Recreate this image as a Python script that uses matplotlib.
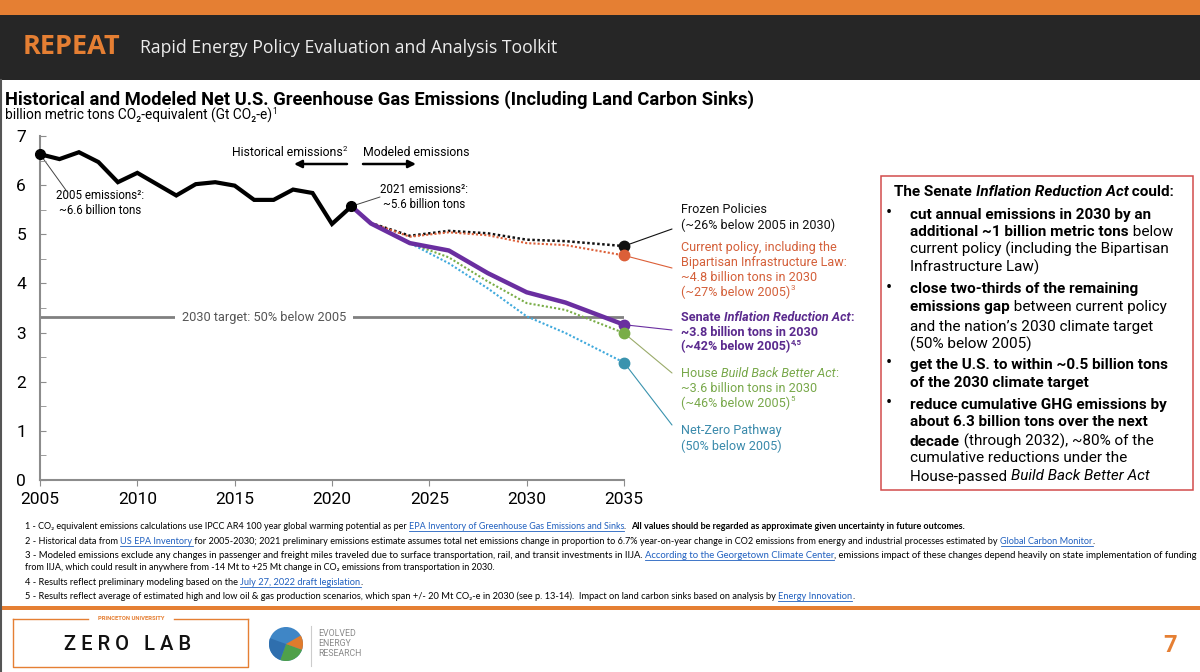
import matplotlib
matplotlib.use('Agg')
import matplotlib.pyplot as plt
from matplotlib.patches import Rectangle, ConnectionPatch, Wedge, Circle

# historical net emissions, Gt CO2-e
hist_years = list(range(2005, 2022))
hist = [6.63, 6.53, 6.67, 6.47, 6.06, 6.25, 6.02, 5.79, 6.02, 6.06, 5.99, 5.70, 5.70, 5.91, 5.84, 5.21, 5.57]

# modeled scenarios
model_years = [2021, 2022, 2024, 2026, 2028, 2030, 2032, 2035]
frozen = [5.57, 5.23, 4.97, 5.07, 5.02, 4.89, 4.86, 4.76]
current = [5.57, 5.23, 4.95, 5.04, 4.98, 4.82, 4.78, 4.57]
ira = [5.57, 5.22, 4.82, 4.67, 4.21, 3.82, 3.61, 3.16]
bbb = [5.57, 5.22, 4.82, 4.53, 4.04, 3.60, 3.46, 2.99]
netzero = [5.57, 5.22, 4.82, 4.41, 3.90, 3.33, 2.99, 2.39]

SANS = ['Roboto', 'DejaVu Sans']
FOOT = ['Lato', 'DejaVu Sans']
ORANGE = '#e57f33'

fig = plt.figure(figsize=(12, 6.72), dpi=100)
R = fig.canvas.get_renderer()

# background layer in pixel coords (y down)
bg = fig.add_axes([0, 0, 1, 1])
bg.set_xlim(0, 1200)
bg.set_ylim(672, 0)
bg.axis('off')

bg.add_patch(Rectangle((0, 0), 1200, 15, color=ORANGE, lw=0))
bg.add_patch(Rectangle((0, 15), 1200, 65, color='#262626', lw=0))
bg.add_patch(Rectangle((0, 606), 1200, 4, color=ORANGE, lw=0))
bg.plot([1, 1], [80, 672], color='#555555', lw=1.5)


def runs(x, y, parts, size, color='black', family=SANS, fit=None):
    x0 = x
    drawn = []
    base = y + 0.36 * size * 100 / 72
    for p in parts:
        if isinstance(p, str):
            p = (p, {})
        s, st = p
        sz = size * 0.62 if st.get('sup') else size
        yy = base - 0.42 * size * 100 / 72 if st.get('sup') else base
        c = st.get('color', color)
        t = bg.text(x, yy, s, fontsize=sz, color=c,
                    fontweight=st.get('weight', 'normal'),
                    fontstyle=st.get('style', 'normal'),
                    family=family, ha='left', va='baseline')
        drawn.append(t)
        w = t.get_window_extent(renderer=R).width
        if st.get('ul'):
            drawn += bg.plot([x, x + w], [base + 1.6, base + 1.6], color=c, lw=0.6)
        x += w
    if fit:
        for a in drawn:
            a.remove()
        return runs(x0, y, parts, size * fit / (x - x0), color, family)
    return size


B = {'weight': 'bold'}
I = {'style': 'italic'}
BI = {'weight': 'bold', 'style': 'italic'}
SUP = {'sup': True}
BSUP = {'sup': True, 'weight': 'bold'}

# banner
bg.text(23, 47, 'REPEAT', fontsize=19.5, fontweight='bold', color=ORANGE,
        family=['Open Sans'], va='center', ha='left')
bg.text(140, 48, 'Rapid Energy Policy Evaluation and Analysis Toolkit', fontsize=12.7,
        color='#ececec', family=['Open Sans'], va='center', ha='left')

# title
runs(5, 98, [('Historical and Modeled Net U.S. Greenhouse Gas Emissions (Including Land Carbon Sinks)', B)],
     13, fit=747)
runs(5, 115, ['billion metric tons CO₂-equivalent (Gt CO₂-e)', ('1', SUP)], 9.5, fit=273)

# main axes
ax = fig.add_axes([40 / 1200, 1 - 480 / 672, 584 / 1200, 344 / 672])
ax.set_zorder(2)
ax.patch.set_visible(False)
ax.set_xlim(2005, 2035)
ax.set_ylim(0, 7)
for s in ['top', 'right']:
    ax.spines[s].set_visible(False)
for s in ['left', 'bottom']:
    ax.spines[s].set_color('#8c8c8c')
    ax.spines[s].set_linewidth(1.5)
    ax.spines[s].set_clip_on(False)
ax.set_xticks(range(2005, 2036, 5))
ax.set_yticks(range(0, 8))
ax.set_yticks([i + 0.5 for i in range(7)], minor=True)
ax.tick_params(axis='y', which='both', direction='in', length=4, color='#8c8c8c', pad=10,
               labelsize=12.5)
ax.tick_params(axis='x', direction='out', length=4, color='#8c8c8c', pad=5, labelsize=12.5)
for lab in ax.get_xticklabels() + ax.get_yticklabels():
    lab.set_family(SANS)

target = 0.5 * hist[0]
ax.plot([2005, 2035], [target, target], color='#808080', lw=2, zorder=1)
ax.text(2016.5, target, '2030 target: 50% below 2005', ha='center', va='center', fontsize=9.2,
        color='#555555', family=SANS, zorder=2,
        bbox=dict(boxstyle='square,pad=0.55', fc='white', ec='none'))

ax.plot(model_years, frozen, color='#111111', lw=1.8, ls=(0, (1, 1)), zorder=3)
ax.plot(model_years, current, color='#dc5f38', lw=1.5, ls=(0, (1, 1)), zorder=3)
ax.plot(model_years, bbb, color='#79ad47', lw=1.5, ls=(0, (1, 1)), zorder=3)
ax.plot(model_years, netzero, color='#3fa9dc', lw=1.5, ls=(0, (1, 1)), zorder=3)
ax.plot(model_years, ira, color='#6a2ea0', lw=3.2, zorder=4, solid_capstyle='round')
ax.plot(hist_years, hist, color='black', lw=3, zorder=5, solid_joinstyle='miter')
ax.plot([hist_years[0], hist_years[-1]], [hist[0], hist[-1]], 'o', color='black', ms=7,
        zorder=6, clip_on=False)

ends = [(frozen, '#111111', '#111111', 229), (current, '#dc5f38', '#dc5f38', 268),
        (ira, '#6a2ea0', '#6a2ea0', 330), (bbb, '#79ad47', '#9aab6a', 373),
        (netzero, '#3a93ae', '#3a93ae', 425)]
for ser, c, lc, ly in ends:
    ax.plot(model_years[-1], ser[-1], 'o', color=c, ms=7.5, zorder=6, clip_on=False)
    fig.add_artist(ConnectionPatch(xyA=(model_years[-1], ser[-1]), coordsA=ax.transData,
                                   xyB=(672, ly), coordsB=bg.transData, color=lc, lw=0.8))

# point annotations
fig.add_artist(ConnectionPatch(xyA=(hist_years[0], hist[0]), coordsA=ax.transData,
                               xyB=(68, 193), coordsB=bg.transData, color='#444444', lw=0.7))
bg.text(100, 203, '2005 emissions²:\n~6.6 billion tons', ha='center', va='center',
        fontsize=8.3, family=SANS, linespacing=1.15)
fig.add_artist(ConnectionPatch(xyA=(hist_years[-1], hist[-1]), coordsA=ax.transData,
                               xyB=(380, 197), coordsB=bg.transData, color='#444444', lw=0.7))
bg.text(424, 197, '2021 emissions²:\n~5.6 billion tons', ha='center', va='center',
        fontsize=8.3, family=SANS, linespacing=1.15)

# historical / modeled arrows
runs(232, 152, ['Historical emissions', ('2', SUP)], 9, fit=116)
runs(363, 152, ['Modeled emissions'], 9, fit=107)
bg.annotate('', xy=(294, 164), xytext=(347, 164),
            arrowprops=dict(arrowstyle='-|>', lw=1.8, color='black', mutation_scale=11,
                            shrinkA=0, shrinkB=0))
bg.annotate('', xy=(416, 164), xytext=(363, 164),
            arrowprops=dict(arrowstyle='-|>', lw=1.8, color='black', mutation_scale=11,
                            shrinkA=0, shrinkB=0))

# scenario labels
LX = 681
LS = 9.1
runs(LX, 208, ['Frozen Policies'], LS, '#111111')
runs(LX, 224, ['(~26% below 2005 in 2030)'], LS, '#111111')
cc = '#d4603a'
runs(LX, 246, ['Current policy, including the'], LS, cc)
runs(LX, 261, ['Bipartisan Infrastructure Law:'], LS, cc)
runs(LX, 276, ['~4.8 billion tons in 2030'], LS, cc)
runs(LX, 291, ['(~27% below 2005)', ('3', SUP)], LS, cc)
pc = '#5b2a8e'
runs(LX, 316, [('Senate ', B), ('Inflation Reduction Act', BI), (':', B)], LS, pc)
runs(LX, 331, [('~3.8 billion tons in 2030', B)], LS, pc)
runs(LX, 346, [('(~42% below 2005)', B), ('4,5', BSUP)], LS, pc)
gc = '#78a84a'
runs(LX, 372, ['House ', ('Build Back Better Act', I), ':'], LS, gc)
runs(LX, 387, ['~3.6 billion tons in 2030'], LS, gc)
runs(LX, 402, ['(~46% below 2005)', ('5', SUP)], LS, gc)
nc = '#3a8aab'
runs(LX, 429, ['Net-Zero Pathway'], LS, nc)
runs(LX, 445, ['(50% below 2005)'], LS, nc)

# right text box
bg.add_patch(Rectangle((881, 176), 312, 314, fill=False, ec='#d24b4b', lw=1.1))
BS = 11
runs(894, 191, [('The Senate ', B), ('Inflation Reduction Act', BI), (' could:', B)], BS)
box_lines = [
    (213, True, [('cut annual emissions in 2030 by an', B)]),
    (231, False, [('additional ~1 billion metric tons', B), ' below']),
    (248, False, ['current policy (including the Bipartisan']),
    (266, False, ['Infrastructure Law)']),
    (288, True, [('close two-thirds of the remaining', B)]),
    (306, False, [('emissions gap', B), ' between current policy']),
    (325, False, ['and the nation’s 2030 climate target']),
    (343, False, ['(50% below 2005)']),
    (363, True, [('get the U.S. to within ~0.5 billion tons', B)]),
    (382, False, [('of the 2030 climate target', B)]),
    (403, True, [('reduce cumulative GHG emissions by', B)]),
    (421, False, [('about 6.3 billion tons over the next', B)]),
    (440, False, [('decade', B), ' (through 2032), ~80% of the']),
    (457, False, ['cumulative reductions under the']),
    (475, False, ['House-passed ', ('Build Back Better Act', I)]),
]
for y, bullet, parts in box_lines:
    if bullet:
        bg.text(889, y, '•', ha='center', va='center', fontsize=13, family=SANS)
    runs(910, y, parts, BS)

# footnotes
L = {'color': '#1f5fbf', 'ul': True}
runs(25, 526, ['1 - CO₂ equivalent emissions calculations use IPCC AR4 100 year global warming potential as per ',
               ('EPA Inventory of Greenhouse Gas Emissions and Sinks', L), '.  ',
               ('All values should be regarded as approximate given uncertainty in future outcomes.', B)],
     6.5, family=FOOT, fit=935)
runs(25, 541, ['2 - Historical data from ', ('US EPA Inventory', L),
               ' for 2005-2030; 2021 preliminary emissions estimate assumes total net emissions change in proportion to 6.7% year-on-year change in CO2 emissions from energy and industrial processes estimated by ',
               ('Global Carbon Monitor', L), '.'], 6.5, family=FOOT, fit=1072)
runs(25, 555, ['3 - Modeled emissions exclude any changes in passenger and freight miles traveled due to surface transportation, rail, and transit investments in IIJA. ',
               ('According to the Georgetown Climate Center', L),
               ', emissions impact of these changes depend heavily on state implementation of funding'],
     6.5, family=FOOT, fit=1163)
runs(25, 567, ['from IIJA, which could result in anywhere from -14 Mt to +25 Mt change in CO₂ emissions from transportation in 2030.'],
     6.5, family=FOOT, fit=471)
runs(25, 582, ['4 - Results reflect preliminary modeling based on the ', ('July 27, 2022 draft legislation', L), '.'],
     6.5, family=FOOT, fit=336)
runs(25, 596, ['5 - Results reflect average of estimated high and low oil & gas production scenarios, which span +/- 20 Mt CO₂-e in 2030 (see p. 13-14).  Impact on land carbon sinks based on analysis by ',
               ('Energy Innovation', L), '.'], 6.5, family=FOOT, fit=828)

# footer logos
bg.plot([13, 88], [619, 619], color=ORANGE, lw=1)
bg.plot([174, 248], [619, 619], color=ORANGE, lw=1)
bg.plot([13, 13, 248, 248], [619, 667, 667, 619], color=ORANGE, lw=1)
bg.text(131, 619, 'PRINCETON UNIVERSITY', ha='center', va='center', fontsize=4.2,
        color=ORANGE, family=SANS, fontweight='bold')
bg.text(128, 644, 'Z E R O   L A B', ha='center', va='center', fontsize=14.5,
        family=SANS, fontweight='medium', color='#111111')
bg.add_patch(Circle((286, 644), 17, color='#3f86c6', lw=0))
bg.add_patch(Wedge((286, 644), 17, 20, 110, color='#4fa04a', lw=0))
bg.add_patch(Wedge((286, 644), 17, 110, 200, color='#2f6fae', lw=0))
bg.add_patch(Wedge((286, 644), 17, 330, 20, color='#e07b2c', lw=0))
bg.plot([311, 311], [626, 666], color='#cccccc', lw=0.8)
for i, w in enumerate(['EVOLVED', 'ENERGY', 'RESEARCH']):
    bg.text(318, 634 + 10 * i, w, ha='left', va='center', fontsize=6.3, color='#8a8a8a',
            family=SANS)
bg.text(1170, 646, '7', ha='center', va='center', fontsize=17, color=ORANGE,
        fontweight='bold', family=SANS)

fig.savefig('out.png', dpi=100)
